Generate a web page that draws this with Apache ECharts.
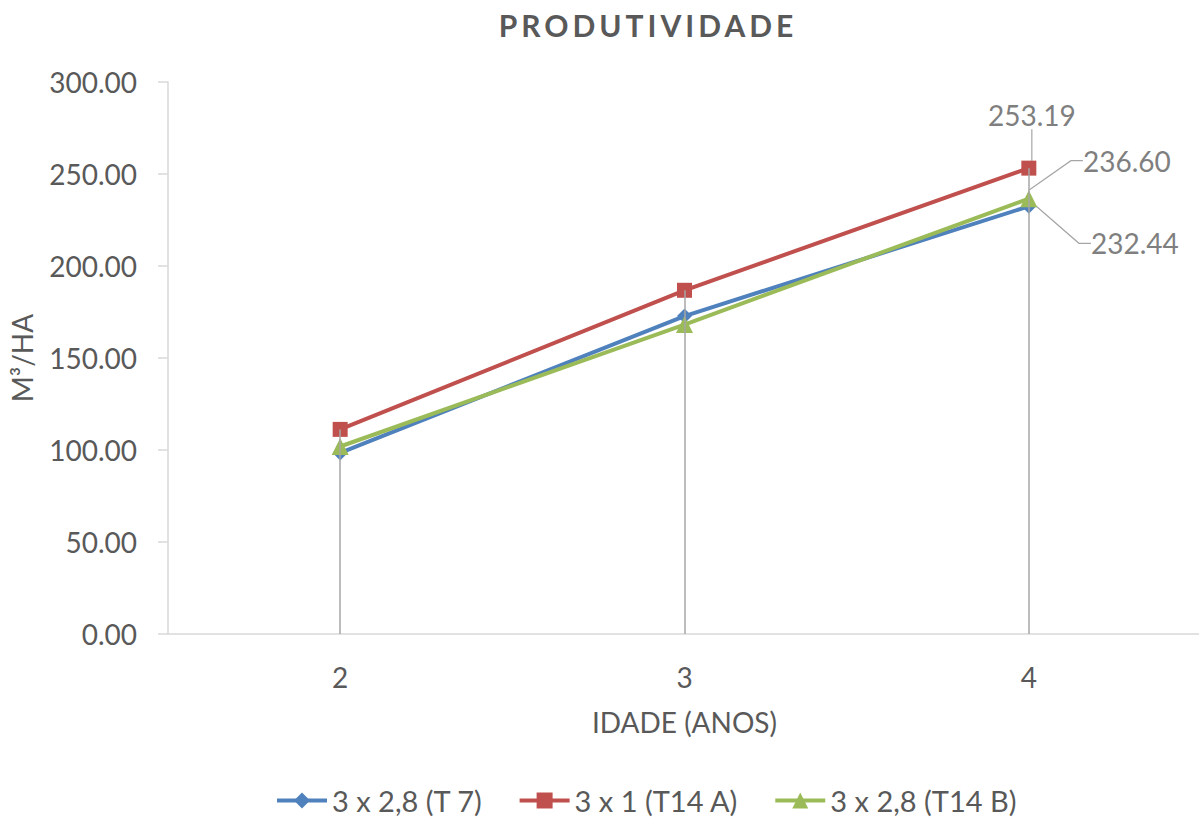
<!DOCTYPE html>
<html>
<head>
<meta charset="utf-8">
<script src="https://cdn.jsdelivr.net/npm/echarts@6/dist/echarts.min.js"></script>
<style>
  html, body { margin: 0; padding: 0; background: #ffffff; }
  #chart { width: 1199px; height: 819px; }
</style>
</head>
<body>
<div id="chart"></div>
<script>
// ---- data ----
const titleText = 'PRODUTIVIDADE';
const xAxisTitle = 'IDADE (ANOS)';
const yAxisTitle = 'M³/HA';
const ages = ['2', '3', '4'];
const seriesNames = ['3 x 2,8 (T 7)', '3 x 1 (T14 A)', '3 x 2,8 (T14 B)'];
const t7 = [98.4, 172.8, 232.44];
const t14a = [111.2, 186.8, 253.19];
const t14b = [101.9, 168.2, 236.60];
const yMin = 0;
const yMax = 300;
const yStep = 50;

// ---- styling ----
const FONT = 'Lato';
const TEXT_DARK = '#595959';
const TEXT_LIGHT = '#7f7f7f';
const AXIS_GRAY = '#d9d9d9';
const DROP_GRAY = '#a6a6a6';
const colors = ['#4f81bd', '#c0504d', '#9bbb59'];
const symbols = ['diamond', 'rect', 'triangle'];
const symbolSizes = [15, 15, 17];
// where each end-point label centre sits, relative to its marker
const labelShift = [[106, 37], [3, -53], [98, -38]];

const valuesBySeries = [t7, t14a, t14b];
const lastIdx = ages.length - 1;
// drop lines run from the highest point of each category to the axis
const dropTops = ages.map((_, i) => Math.max(...valuesBySeries.map(v => v[i])));

const chartDom = document.getElementById('chart');
const chart = echarts.init(chartDom, null, { renderer: 'svg' });

const series = valuesBySeries.map((vals, s) => ({
  name: seriesNames[s],
  type: 'line',
  data: vals.map((v, i) => i === lastIdx ? { value: v, label: { show: true } } : v),
  color: colors[s],
  symbol: symbols[s],
  symbolSize: symbolSizes[s],
  showAllSymbol: true,
  lineStyle: { width: 4, color: colors[s] },
  itemStyle: { color: colors[s] },
  emphasis: { disabled: true },
  label: {
    show: false,
    position: 'inside',
    color: TEXT_LIGHT,
    fontFamily: FONT,
    fontSize: 28,
    padding: [6, 10],
    formatter: p => p.value.toFixed(2)
  },
  labelLine: {
    show: true,
    length2: 12,
    lineStyle: { color: DROP_GRAY, width: 1.2 }
  },
  labelLayout: p => {
    if (p.dataIndex !== lastIdx) return {};
    const cx = p.rect.x + p.rect.width / 2;
    const cy = p.rect.y + p.rect.height / 2;
    return {
      x: cx + labelShift[s][0],
      y: cy + labelShift[s][1],
      align: 'center',
      verticalAlign: 'middle'
    };
  },
  z: 2 + s,
  markLine: s === valuesBySeries.length - 1 ? {
    silent: true,
    symbol: ['none', 'none'],
    label: { show: false },
    lineStyle: { color: DROP_GRAY, width: 1.5, type: 'solid' },
    emphasis: { disabled: true },
    data: ages.map((a, i) => [{ coord: [a, dropTops[i]] }, { coord: [a, yMin] }])
  } : undefined
}));

chart.setOption({
  animation: false,
  backgroundColor: '#ffffff',
  title: {
    text: titleText,
    left: 643,
    top: 5,
    textAlign: 'center',
    textStyle: { fontFamily: FONT, fontWeight: 'bold', fontSize: 30, color: TEXT_DARK }
  },
  legend: {
    top: 781,
    left: 270,
    itemWidth: 50,
    itemHeight: 20,
    itemGap: 35,
    lineStyle: { width: 4 },
    textStyle: { fontFamily: FONT, fontSize: 29, color: TEXT_DARK },
    data: seriesNames
  },
  grid: { left: 168, right: -2, top: 82, bottom: 185, containLabel: false, outerBoundsMode: 'none' },
  xAxis: {
    type: 'category',
    data: ages,
    boundaryGap: true,
    name: xAxisTitle,
    nameLocation: 'middle',
    nameGap: 74,
    nameTextStyle: { fontFamily: FONT, fontSize: 28, color: TEXT_DARK },
    axisLine: { lineStyle: { color: AXIS_GRAY, width: 1.5 } },
    axisTick: { show: false },
    axisLabel: { fontFamily: FONT, fontSize: 28, color: TEXT_DARK, margin: 29 },
    splitLine: { show: false }
  },
  yAxis: {
    type: 'value',
    min: yMin,
    max: yMax,
    interval: yStep,
    name: yAxisTitle,
    nameLocation: 'middle',
    nameGap: 132,
    nameTextStyle: { fontFamily: FONT, fontSize: 28, color: TEXT_DARK },
    axisLine: { show: true, lineStyle: { color: AXIS_GRAY, width: 1.5 } },
    axisTick: { show: true, inside: false, length: 10, lineStyle: { color: AXIS_GRAY, width: 1.5 } },
    axisLabel: { fontFamily: FONT, fontSize: 28, color: TEXT_DARK, margin: 31, formatter: v => v.toFixed(2) },
    splitLine: { show: false }
  },
  series: series
});

// spread the title letters out
function spaceTitle() {
  chartDom.querySelectorAll('text').forEach(t => {
    if (t.textContent === titleText) t.style.letterSpacing = '4px';
  });
}
spaceTitle();
chart.on('finished', spaceTitle);
</script>
</body>
</html>
